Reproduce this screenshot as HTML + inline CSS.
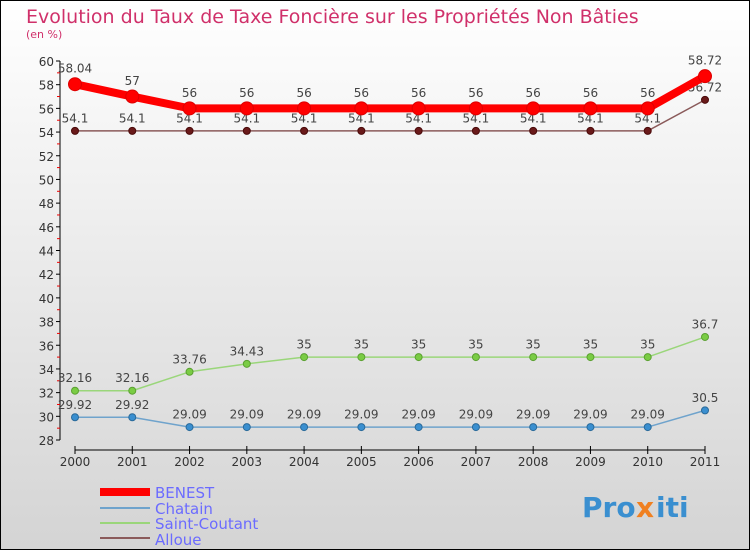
<!DOCTYPE html>
<html><head><meta charset="utf-8"><style>
body{margin:0;width:750px;height:550px;overflow:hidden;font-family:"DejaVu Sans","Liberation Sans",sans-serif}
svg{display:block}
</style></head><body>
<svg width="750" height="550" xmlns="http://www.w3.org/2000/svg">
<defs><linearGradient id="bg" x1="0" y1="0" x2="0" y2="1"><stop offset="0" stop-color="#ffffff"/><stop offset="1" stop-color="#d4d4d4"/></linearGradient></defs>
<rect x="0.5" y="0.5" width="749" height="549" fill="url(#bg)" stroke="#000"/>
<text x="26" y="23" font-size="19" fill="#d0306a">Evolution du Taux de Taxe Foncière sur les Propriétés Non Bâties</text>
<text x="26" y="38" font-size="11" fill="#d0306a">(en %)</text>
<g id="axes"></g><g id="series"></g>
<g>
<rect x="100" y="488" width="50" height="8" fill="#f00"/>
<text x="155" y="498" font-size="15" fill="#6b6bff">BENEST</text>
<rect x="100" y="507" width="50" height="2" fill="#6fa3cc"/>
<text x="155" y="514" font-size="15" fill="#6b6bff">Chatain</text>
<rect x="100" y="522" width="50" height="2" fill="#9ad67a"/>
<text x="155" y="529" font-size="15" fill="#6b6bff">Saint-Coutant</text>
<rect x="100" y="537" width="50" height="2" fill="#8a5a5a"/>
<text x="155" y="545" font-size="15" fill="#6b6bff">Alloue</text>
</g>
<g font-size="28" font-weight="bold">
<text x="582" y="517" fill="#3a8fd0">Pro</text><text x="636" y="517" fill="#f08020">x</text><text x="656" y="517" fill="#3a8fd0">iti</text>
</g>
</svg>
<script>
const years=[2000,2001,2002,2003,2004,2005,2006,2007,2008,2009,2010,2011];
const benest=[58.04,57,56,56,56,56,56,56,56,56,56,58.72];
const chatain=[29.92,29.92,29.09,29.09,29.09,29.09,29.09,29.09,29.09,29.09,29.09,30.5];
const saintCoutant=[32.16,32.16,33.76,34.43,35,35,35,35,35,35,35,36.7];
const alloue=[54.1,54.1,54.1,54.1,54.1,54.1,54.1,54.1,54.1,54.1,54.1,56.72];
const yTicks=[28,30,32,34,36,38,40,42,44,46,48,50,52,54,56,58,60];
const NS="http://www.w3.org/2000/svg";
const X=i=>75+i*(630/11);
const Y=v=>440-(v-28)*(379/32);
function mk(tag,attrs,parent){const e=document.createElementNS(NS,tag);for(const k in attrs)e.setAttribute(k,attrs[k]);parent.appendChild(e);return e;}
const ax=document.getElementById('axes');
let l=mk('line',{x1:60,y1:Y(60),x2:60,y2:Y(28),stroke:'#000'},ax);


l=mk('line',{x1:X(0),y1:450,x2:X(11),y2:450,stroke:'#000'},ax);


yTicks.forEach(v=>{
 mk('line',{x1:56,x2:60,y1:Y(v),y2:Y(v),stroke:'#000'},ax);
 if(v<60)mk('line',{x1:57,x2:60,y1:Y(v+1),y2:Y(v+1),stroke:'#e00'},ax);
 const t=mk('text',{x:54,y:Y(v)+5,'font-size':12,fill:'#333','text-anchor':'end'},ax);
 t.textContent=v;
 
 
});
years.forEach((yr,i)=>{
 mk('line',{x1:X(i),x2:X(i),y1:446,y2:454,stroke:'#000'},ax);
 const t=mk('text',{x:X(i),y:466,'font-size':12,fill:'#333','text-anchor':'middle'},ax);
 t.textContent=yr;
 
 
});
const sg=document.getElementById('series');
function series(name,vals,color,w,r,dot,dotStroke){
 const g=mk('g',{},sg);
 
 
 mk('polyline',{points:vals.map((v,i)=>X(i)+','+Y(v)).join(' '),fill:'none',stroke:color,'stroke-width':w,'stroke-linejoin':'round'},g);
 vals.forEach((v,i)=>{
  const c=mk('circle',{cx:X(i),cy:Y(v),r:r,fill:dot,stroke:dotStroke,'stroke-width':1},g);
  
  
  const t=mk('text',{x:X(i),y:Y(v)-(r+5),'font-size':12,fill:'#444','text-anchor':'middle'},g);
  t.textContent=v;
  
  
 });
}
series('chatain',chatain,'#6fa3cc',1.5,3.5,'#3a8fd0','#2a6a9a');
series('saint-coutant',saintCoutant,'#9ad67a',1.5,3.5,'#7acc44','#5aa030');
series('alloue',alloue,'#8a5a5a',1.5,3.5,'#6a1a1a','#4a0a0a');
series('benest',benest,'#f00',8,6.5,'#f00','#d00');
</script>
</body></html>
